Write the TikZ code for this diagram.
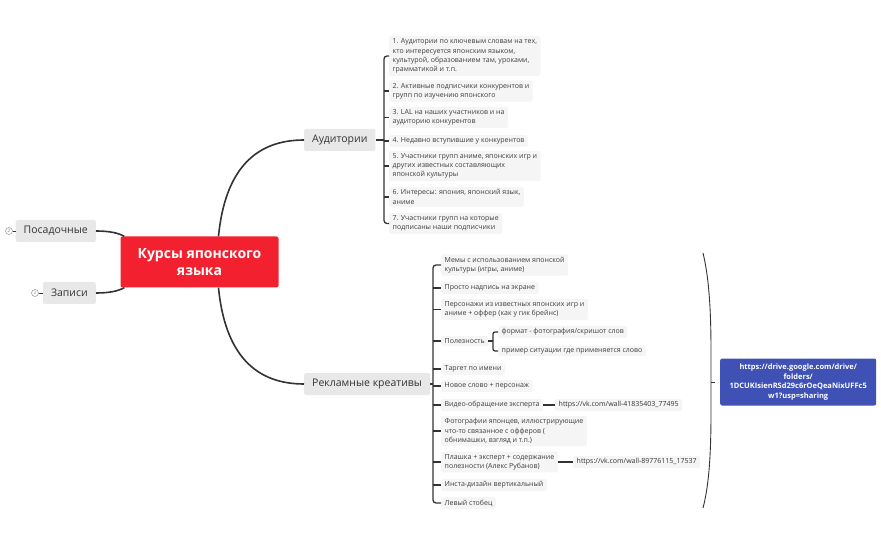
\documentclass[tikz,border=0pt]{standalone}
\usepackage{fontspec}
\setmainfont{Open Sans}
\usetikzlibrary{positioning}
\definecolor{rootred}{RGB}{243,32,47}
\definecolor{topicgray}{RGB}{232,232,232}
\definecolor{leafgray}{RGB}{245,245,245}
\definecolor{linkblue}{RGB}{63,81,181}
\definecolor{inkgray}{RGB}{51,51,51}
\definecolor{leaftext}{RGB}{62,62,62}
\tikzset{rootbox/.style={fill=rootred,text=white,rounded corners=2pt,minimum width=158pt,minimum height=51pt,align=center,font=\bfseries\fontsize{14}{17}\selectfont}}
\tikzset{topicbox/.style={fill=topicgray,text=inkgray,rounded corners=2pt,minimum height=22pt,inner xsep=8pt,font=\fontsize{10.5}{12}\selectfont}}
\tikzset{leafbox/.style={fill=leafgray,text=leaftext,rounded corners=2pt,anchor=west,align=left,inner xsep=3.5pt,inner ysep=2.5pt,font=\fontsize{7}{9.3}\selectfont}}
\tikzset{linkbox/.style={fill=linkblue,text=white,rounded corners=2pt,align=center,anchor=west,minimum width=156pt,minimum height=47pt,font=\bfseries\fontsize{7.5}{9.5}\selectfont}}
\tikzset{foldmark/.style={draw=gray,circle,inner sep=0pt,minimum size=7pt,text=gray,font=\fontsize{4.5}{5}\selectfont}}
\tikzset{branch/.style={inkgray,line width=1.6pt}}
\tikzset{spine/.style={inkgray,line width=1.3pt,rounded corners=3pt}}

\begin{document}
\begin{tikzpicture}[x=1pt,y=-1pt]

	\useasboundingbox (0,0) rectangle (881,545);

	\node[rootbox] (root) at (199.5,262) {Курсы японского\\языка};

	\node[topicbox,anchor=east] (posad) at (96,231) {Посадочные};
	\node[topicbox,anchor=east] (zapisi) at (96,293) {Записи};
	\node[foldmark] (posadfold) at (9,231) {2};
	\node[foldmark] (zapisifold) at (35,293) {2};
	\node[topicbox,anchor=west] (aud) at (304,140) {Аудитории};
	\node[topicbox,anchor=west] (ads) at (304,384) {Рекламные креативы};

	\node[leafbox] (a1) at (389,56) {1. Аудитории по ключевым словам на тех,\\кто интересуется японским языком,\\культурой, образованием там, уроками,\\грамматикой и т.п.};
	\node[leafbox] (a2) at (389,91) {2. Активные подписчики конкурентов и\\групп по изучению японского};
	\node[leafbox] (a3) at (389,117.5) {3. LAL на наших участников и на\\аудиторию конкурентов};
	\node[leafbox] (a4) at (389,141) {4. Недавно вступившие у конкурентов};
	\node[leafbox] (a5) at (389,166) {5. Участники групп аниме, японских игр и\\других известных составляющих\\японской культуры};
	\node[leafbox] (a6) at (389,197) {6. Интересы: япония, японский язык,\\аниме};
	\node[leafbox] (a7) at (389,223.5) {7. Участники групп на которые\\подписаны наши подписчики};

	\node[leafbox] (c1) at (441,265) {Мемы с использованием японской\\культуры (игры, аниме)};
	\node[leafbox] (c2) at (441,288) {Просто надпись на экране};
	\node[leafbox] (c3) at (441,309.5) {Персонажи из известных японских игр и\\аниме + оффер (как у гик брейнс)};
	\node[leafbox] (c4) at (441,341) {Полезность};
	\node[leafbox] (c5) at (441,369) {Таргет по имени};
	\node[leafbox] (c6) at (441,386) {Новое слово + персонаж};
	\node[leafbox] (c7) at (441,405) {Видео-обращение эксперта};
	\node[leafbox] (c8) at (441,431) {Фотографии японцев, иллюстрирующие\\что-то связанное с офферов (\\обнимашки, взгляд и т.п.)};
	\node[leafbox] (c9) at (441,462) {Плашка + эксперт + содержание\\полезности (Алекс Рубанов)};
	\node[leafbox] (c10) at (441,485) {Инста-дизайн вертикальный};
	\node[leafbox] (c11) at (441,503) {Левый стобец};

	\node[leafbox] (use1) at (498,332) {формат - фотография/скришот слов};
	\node[leafbox] (use2) at (498,351) {пример ситуации где применяется слово};
	\node[leafbox,text=inkgray] (vk1) at (555,405) {https://vk.com/wall-41835403\_77495};
	\node[leafbox,text=inkgray] (vk2) at (573,462) {https://vk.com/wall-89776115\_17537};

	\node[linkbox] (drive) at (720,382) {https://drive.google.com/drive/\\folders/\\1DCUKIsienRSd29c6rOeQeaNixUFFc5\\w1?usp=sharing};

	% main branches
	\draw[branch] ([xshift=19pt]root.north) .. controls (225,170) and (255,140) .. (aud.west);
	\draw[branch] ([xshift=19pt]root.south) .. controls (225,354) and (255,384) .. (ads.west);
	\draw[branch] (posad.east) .. controls (110,231) and (118,233) .. ([xshift=4pt]root.north west);
	\draw[branch] (zapisi.east) .. controls (110,293) and (118,291) .. ([xshift=4pt]root.south west);
	\draw[inkgray,thin] (posadfold) -- (posad);
	\draw[inkgray,thin] (zapisifold) -- (zapisi);

	% audiences
	\coordinate (audspine) at (384,140);
	\draw[spine] (aud.east) -- (audspine);
	\draw[spine] (a1.west) -| (audspine) |- (a7.west);
	\foreach \i in {2,...,6}
		\draw[spine] (a\i.west -| audspine) -- (a\i.west);

	% creatives
	\coordinate (adspine) at (433,384);
	\draw[spine] (ads.east) -- (adspine);
	\draw[spine] (c1.west) -| (adspine) |- (c11.west);
	\foreach \i in {2,...,10}
		\draw[spine] (c\i.west -| adspine) -- (c\i.west);

	\coordinate (usespine) at (493,341);
	\draw[spine] (c4.east) -- (usespine);
	\draw[spine,rounded corners=2pt] (use1.west) -| (usespine) |- (use2.west);
	\draw[spine] (c7.east) -- (vk1.west);
	\draw[spine] (c9.east) -- (vk2.west);

	% summary brace
	\coordinate (bracetop) at (703,253);
	\coordinate (bracemid) at (711,382);
	\coordinate (bracebot) at (703,508);
	\draw[inkgray,line width=0.9pt] (bracetop) .. controls (712,290) and (711,340) .. (bracemid) .. controls (711,424) and (712,474) .. (bracebot);
	\draw[inkgray,line width=0.9pt] (bracemid) -- ++(4,0);

\end{tikzpicture}
\end{document}
